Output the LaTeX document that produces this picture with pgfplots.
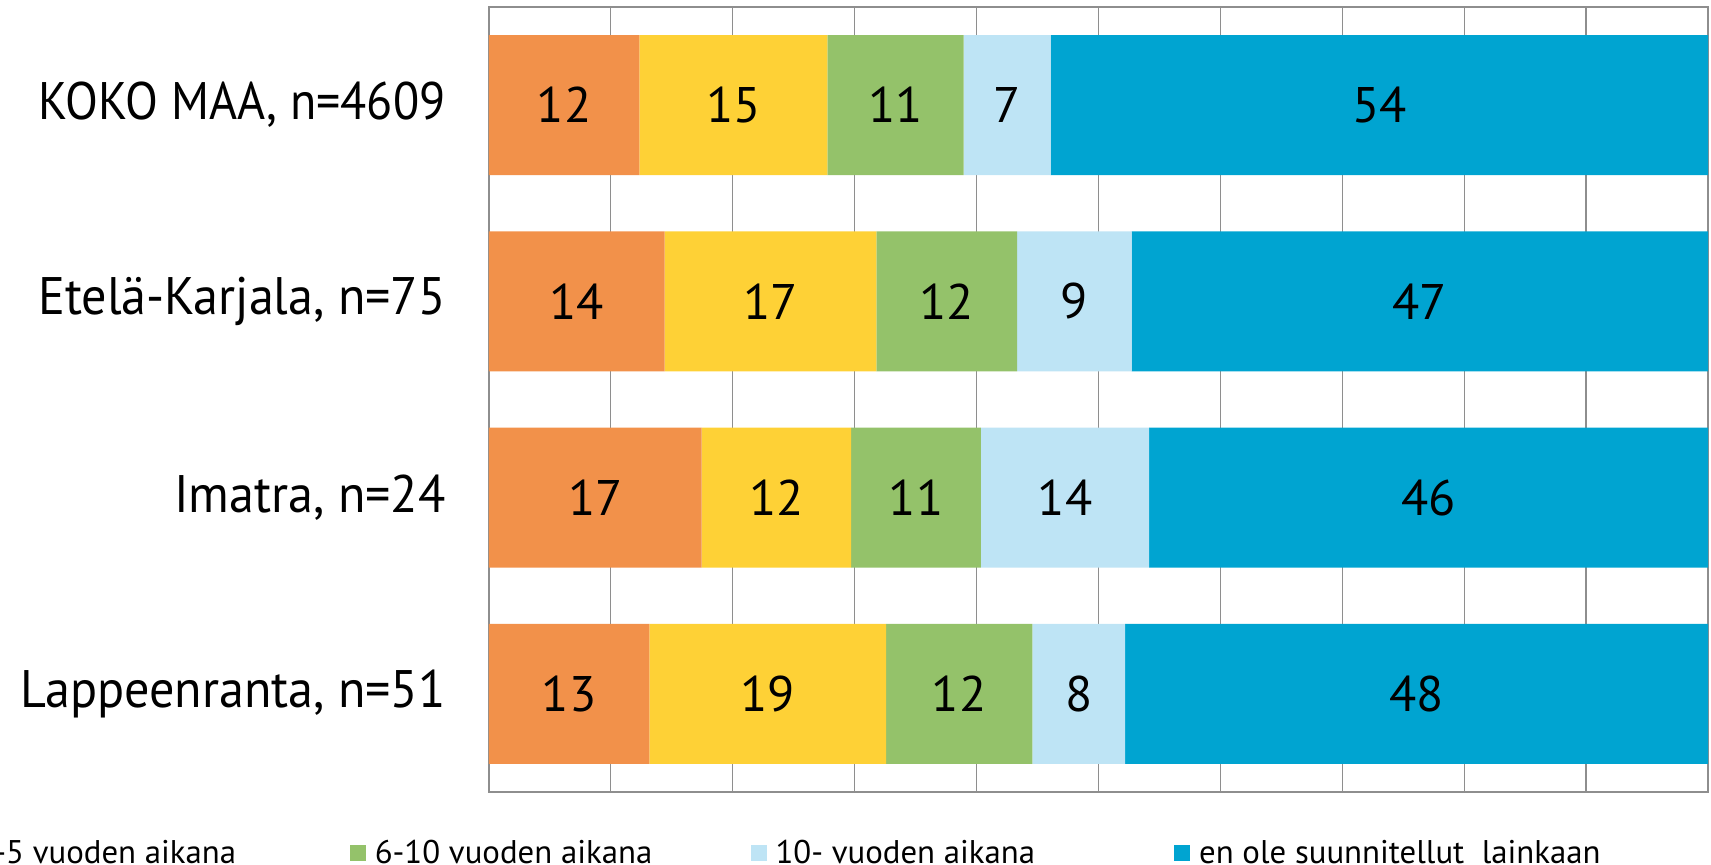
\documentclass[border=0pt]{standalone}
\usepackage{fontspec}
\setmainfont{PT Sans}
\newfontfamily\labfont[FakeStretch=0.95]{PT Sans}
\newfontfamily\capfont[FakeStretch=0.91]{PT Sans}
\usepackage{pgfplots}
\usepackage{pgfplotstable}
\pgfplotsset{compat=1.18}

\definecolor{c1}{HTML}{F2914A}
\definecolor{c2}{HTML}{FED136}
\definecolor{c3}{HTML}{94C26A}
\definecolor{c4}{HTML}{BEE4F5}
\definecolor{c5}{HTML}{00A4D1}
\definecolor{gridgray}{HTML}{8E8E8E}

% shares in percent, one row per area
\pgfplotstableread{
y a b c d e
0 12.33 15.42 11.18 7.15 53.92
1 14.40 17.37 11.55 9.40 47.28
2 17.44 12.27 10.65 13.79 45.85
3 13.15 19.42 12.00 7.61 47.82
}\shares

\pgfplotsset{
  base/.style={scale only axis, width=609.5bp, height=392.5bp,
    xmin=0, xmax=100, ymin=-0.5, ymax=3.5, y dir=reverse},
}

\begin{document}
\begin{tikzpicture}
\begin{axis}[
  base,
  xbar stacked, bar width=0.713,
  xtick={0,10,...,100}, xticklabels={},
  ytick={0,1,2,3},
  yticklabels={{\capfont KOKO MAA, n=4609},{Etelä-Karjala, n=75},{Imatra, n=24},{Lappeenranta, n=51}},
  yticklabel style={anchor=east, inner sep=0pt, xshift=-21.5bp,
    font=\labfont\fontsize{26.4bp}{30bp}\selectfont},
  major tick length=0pt,
  xmajorgrids, grid style={gridgray, line width=0.6bp},
  axis line style={gridgray, line width=0.8bp},
  legend columns=-1,
  legend style={draw=none, fill=none, at={(0.9147,-0.0777)}, anchor=east,
    inner sep=0pt, font=\fontsize{16.4bp}{20bp}\selectfont,
    nodes={inner sep=1.5bp},
    /tikz/every even column/.append style={column sep=50bp}},
  legend image code/.code={\path (0bp,0bp) (7.5bp,0bp);
    \fill[#1, overlay] (-3.4bp,-4bp) rectangle (4.6bp,4bp);},
]
\addplot[fill=c1, draw=none] table[x=a, y=y] {\shares};
\addplot[fill=c2, draw=none] table[x=b, y=y] {\shares};
\addplot[fill=c3, draw=none] table[x=c, y=y] {\shares};
\addplot[fill=c4, draw=none] table[x=d, y=y] {\shares};
\addplot[fill=c5, draw=none] table[x=e, y=y] {\shares};
\legend{1-2 vuoden aikana, 3-5 vuoden aikana\hspace*{8.8bp}, 6-10 vuoden aikana\hspace*{1.1bp}, 10- vuoden aikana\hspace*{21.5bp}, en ole suunnitellut~ lainkaan}
\end{axis}
% value labels, centred in each segment
\begin{axis}[
  base, hide axis,
  point meta=explicit,
  nodes near coords={\pgfmathprintnumber[fixed,precision=0]{\pgfplotspointmeta}},
  /pgf/number format/assume math mode=true,
  every node near coord/.append style={anchor=center, text=black,
    font=\fontsize{25bp}{30bp}\selectfont},
]
\addplot[draw=none, mark=none] table[x expr=\thisrow{a}/2, y=y, meta=a] {\shares};
\addplot[draw=none, mark=none] table[x expr=\thisrow{a}+\thisrow{b}/2, y=y, meta=b] {\shares};
\addplot[draw=none, mark=none] table[x expr=\thisrow{a}+\thisrow{b}+\thisrow{c}/2, y=y, meta=c] {\shares};
\addplot[draw=none, mark=none] table[x expr=\thisrow{a}+\thisrow{b}+\thisrow{c}+\thisrow{d}/2, y=y, meta=d] {\shares};
\addplot[draw=none, mark=none] table[x expr=\thisrow{a}+\thisrow{b}+\thisrow{c}+\thisrow{d}+\thisrow{e}/2, y=y, meta=e] {\shares};
\end{axis}
\pgfresetboundingbox
\path[use as bounding box] (-244.5bp,-36.5bp) rectangle (611bp,396bp);
\end{tikzpicture}
\end{document}
